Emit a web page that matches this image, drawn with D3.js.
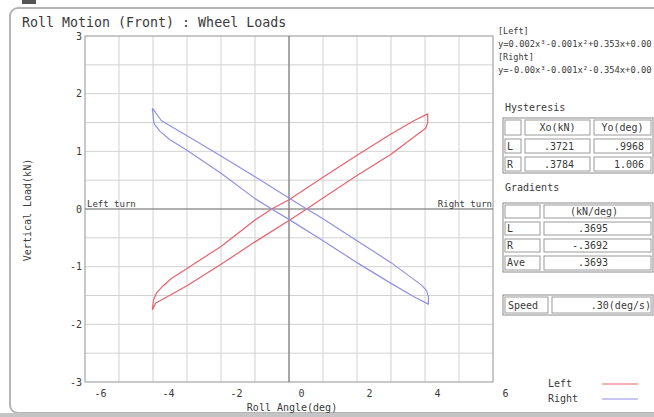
<!DOCTYPE html>
<html>
<head>
<meta charset="utf-8">
<script src="https://cdn.jsdelivr.net/npm/d3@7"></script>
<style>
  html, body { margin: 0; padding: 0; background: #fff; }
  svg { display: block; }
  text { font-family: "DejaVu Sans Mono", "Liberation Mono", monospace; fill: #3a3a3a; }
</style>
</head>
<body>
<svg id="chart" width="654" height="417"></svg>
<script>
// Axis ticks
const xTicks = [-6, -4, -2, 0, 2, 4, 6];
const yTicks = [3, 2, 1, 0, -1, -2, -3];

// Left wheel load loop: roll angle (deg) vs vertical load (kN)
const leftAngle = [-4.02, -3.98, -3.90, -3.70, -3.45, -3.00, -2.00, -1.00, -0.51, 0.00, 1.00, 2.00, 3.00, 3.70, 4.08,
                   4.08, 4.02, 3.90, 3.00, 2.00, 1.00, 0.52, 0.00, -1.00, -2.00, -3.00, -3.70, -3.92, -4.02];
const leftLoad  = [-1.75, -1.57, -1.46, -1.33, -1.20, -1.03, -0.65, -0.19, 0.00, 0.16, 0.55, 0.93, 1.30, 1.54, 1.65,
                   1.50, 1.40, 1.35, 0.95, 0.58, 0.19, 0.00, -0.20, -0.57, -0.96, -1.33, -1.56, -1.63, -1.75];

// Right wheel load loop
const rightAngle = [-4.02, -3.75, -3.00, -2.00, -1.00, 0.00, 0.52, 1.00, 2.00, 3.00, 3.90, 4.05, 4.10,
                    4.10, 3.70, 3.00, 2.00, 1.00, 0.00, -0.51, -1.00, -2.00, -3.00, -3.50, -3.80, -3.97, -4.02];
const rightLoad  = [1.75, 1.53, 1.27, 0.92, 0.56, 0.19, 0.00, -0.17, -0.55, -0.93, -1.32, -1.42, -1.52,
                    -1.65, -1.53, -1.29, -0.93, -0.55, -0.18, 0.00, 0.18, 0.62, 1.02, 1.20, 1.35, 1.48, 1.75];

// Fitted polynomials
const fitLabels = ["[Left]", "[Right]"];
const fitEquations = ["y=0.002x\u00B3-0.001x\u00B2+0.353x+0.00", "y=-0.00x\u00B3-0.001x\u00B2-0.354x+0.00"];

// Hysteresis table
const hystHeader = ["Xo(kN)", "Yo(deg)"];
const hystRows = ["L", "R"];
const hystXo = [".3721", ".3784"];
const hystYo = [".9968", "1.006"];

// Gradients table
const gradHeader = "(kN/deg)";
const gradRows = ["L", "R", "Ave"];
const gradValues = [".3695", "-.3692", ".3693"];

// Speed box
const speedLabel = "Speed";
const speedValue = ".30(deg/s)";

// Legend
const seriesNames = ["Left", "Right"];
const seriesColors = ["#e8626c", "#9090e6"];

const svg = d3.select("#chart");

// window frame
svg.append("rect").attr("x", 10).attr("y", 8).attr("width", 700).attr("height", 405)
  .attr("rx", 8).attr("fill", "#fff").attr("stroke", "#b4b4b4").attr("stroke-width", 2);
svg.append("rect").attr("x", 22).attr("y", 0).attr("width", 14).attr("height", 4).attr("fill", "#555");
svg.append("rect").attr("x", 0).attr("y", 413).attr("width", 654).attr("height", 4).attr("fill", "#c4c4c4");

// title
svg.append("text").attr("x", 22).attr("y", 27).attr("font-size", 13.3).text("Roll Motion (Front) : Wheel Loads");

const x = d3.scaleLinear().domain([-6, 6]).range([85, 493]);
const y = d3.scaleLinear().domain([-3, 3]).range([382, 36]);

const plot = svg.append("g");

// grid
plot.selectAll("line.vg").data(d3.range(-6, 6.001, 1)).join("line")
  .attr("x1", d => x(d)).attr("x2", d => x(d)).attr("y1", y(3)).attr("y2", y(-3))
  .attr("stroke", "#d2d2d2").attr("stroke-width", 1);
plot.selectAll("line.hg").data(d3.range(-3, 3.001, 0.5)).join("line")
  .attr("y1", d => y(d)).attr("y2", d => y(d)).attr("x1", x(-6)).attr("x2", x(6))
  .attr("stroke", "#d2d2d2").attr("stroke-width", 1);

// plot frame
plot.append("rect").attr("x", x(-6)).attr("y", y(3)).attr("width", x(6) - x(-6)).attr("height", y(-3) - y(3))
  .attr("fill", "none").attr("stroke", "#a8a8a8").attr("stroke-width", 1);

// zero lines
plot.append("line").attr("x1", x(0)).attr("x2", x(0)).attr("y1", y(3)).attr("y2", y(-3))
  .attr("stroke", "#666").attr("stroke-width", 1);
plot.append("line").attr("x1", x(-6)).attr("x2", x(6)).attr("y1", y(0)).attr("y2", y(0))
  .attr("stroke", "#777").attr("stroke-width", 1);

// turn labels
plot.append("text").attr("x", x(-6) + 2).attr("y", y(0) - 2).attr("font-size", 9).text("Left turn");
plot.append("text").attr("x", x(6) - 1).attr("y", y(0) - 2).attr("font-size", 9).attr("text-anchor", "end").text("Right turn");

// axes (plain hyphen for negative numbers)
const plainNum = d => String(d);
const yAxis = svg.append("g").attr("transform", `translate(${x(-6)},0)`)
  .call(d3.axisLeft(y).tickValues(yTicks).tickSize(0).tickPadding(3).tickFormat(plainNum));
yAxis.select(".domain").remove();
yAxis.selectAll("text").attr("font-size", 10).attr("font-family", "DejaVu Sans Mono, monospace").attr("fill", "#444");

const xAxis = svg.append("g").attr("transform", `translate(0,${y(-3)})`)
  .call(d3.axisBottom(x).tickValues(xTicks).tickSize(0).tickPadding(8).tickFormat(plainNum));
xAxis.select(".domain").remove();
xAxis.selectAll("text").attr("font-size", 10).attr("font-family", "DejaVu Sans Mono, monospace").attr("fill", "#444")
  .attr("text-anchor", "start").attr("dx", 9);

// axis titles
svg.append("text").attr("x", 292).attr("y", 411).attr("font-size", 10).attr("text-anchor", "middle").text("Roll Angle(deg)");
svg.append("text").attr("transform", "translate(31,210) rotate(-90)").attr("font-size", 10)
  .attr("text-anchor", "middle").text("Vertical Load(kN)");

// loops
const loops = [
  { a: leftAngle, l: leftLoad, c: seriesColors[0] },
  { a: rightAngle, l: rightLoad, c: seriesColors[1] }
];
const line = d3.line().x(d => x(d[0])).y(d => y(d[1]));
loops.forEach(s => {
  plot.append("path").datum(s.a.map((v, i) => [v, s.l[i]]))
    .attr("d", line).attr("fill", "none").attr("stroke", s.c).attr("stroke-width", 1.2)
    .attr("stroke-linejoin", "round");
});

// fit equations
const eq = svg.append("g");
fitLabels.forEach((lab, i) => {
  eq.append("text").attr("x", 498).attr("y", 34 + i * 26).attr("font-size", 8.5).text(lab);
  eq.append("text").attr("x", 498).attr("y", 47 + i * 26).attr("font-size", 8.8).text(fitEquations[i]);
});

// table helper: draws double-line cells
function cellGrid(g, cols, rows) {
  g.append("rect").attr("x", cols[0]).attr("y", rows[0])
    .attr("width", cols[cols.length - 1] - cols[0]).attr("height", rows[rows.length - 1] - rows[0])
    .attr("fill", "none").attr("stroke", "#8a8a8a").attr("stroke-width", 1);
  for (let r = 0; r < rows.length - 1; r++) {
    for (let c = 0; c < cols.length - 1; c++) {
      g.append("rect").attr("x", cols[c] + 2).attr("y", rows[r] + 2)
        .attr("width", cols[c + 1] - cols[c] - 4).attr("height", rows[r + 1] - rows[r] - 4)
        .attr("fill", "none").attr("stroke", "#9a9a9a").attr("stroke-width", 1);
    }
  }
}

// hysteresis
const hy = svg.append("g");
hy.append("text").attr("x", 505).attr("y", 111).attr("font-size", 10).text("Hysteresis");
const hCols = [503, 523, 592, 653];
const hRowsY = [118, 137, 155, 173];
cellGrid(hy, hCols, hRowsY);
hystHeader.forEach((h, i) => {
  hy.append("text").attr("x", (hCols[i + 1] + hCols[i + 2]) / 2).attr("y", 131).attr("font-size", 10)
    .attr("text-anchor", "middle").text(h);
});
hystRows.forEach((r, i) => {
  const yy = 150 + i * 18;
  hy.append("text").attr("x", 507).attr("y", yy).attr("font-size", 10).text(r);
  hy.append("text").attr("x", 574).attr("y", yy).attr("font-size", 10).attr("text-anchor", "end").text(hystXo[i]);
  hy.append("text").attr("x", 644).attr("y", yy).attr("font-size", 10).attr("text-anchor", "end").text(hystYo[i]);
});

// gradients
const gr = svg.append("g");
gr.append("text").attr("x", 505).attr("y", 191).attr("font-size", 10).text("Gradients");
const gCols = [503, 542, 653];
const gRowsY = [203, 220, 237, 254, 272];
cellGrid(gr, gCols, gRowsY);
gr.append("text").attr("x", 594).attr("y", 215).attr("font-size", 10).attr("text-anchor", "middle").text(gradHeader);
gradRows.forEach((r, i) => {
  const yy = 232 + i * 17;
  gr.append("text").attr("x", 507).attr("y", yy).attr("font-size", 10).text(r);
  gr.append("text").attr("x", 608).attr("y", yy).attr("font-size", 10).attr("text-anchor", "end").text(gradValues[i]);
});

// speed
const sp = svg.append("g");
cellGrid(sp, [503, 550, 653], [295, 315]);
sp.append("text").attr("x", 508).attr("y", 309).attr("font-size", 10).text(speedLabel);
sp.append("text").attr("x", 651).attr("y", 309).attr("font-size", 10).attr("text-anchor", "end").text(speedValue);

// legend
const lg = svg.append("g");
seriesNames.forEach((n, i) => {
  const yy = 384 + i * 15;
  lg.append("text").attr("x", 548).attr("y", yy + 3).attr("font-size", 10).text(n);
  lg.append("line").attr("x1", 602).attr("x2", 638).attr("y1", yy).attr("y2", yy)
    .attr("stroke", seriesColors[i]).attr("stroke-width", 1.2);
});
</script>
</body>
</html>
